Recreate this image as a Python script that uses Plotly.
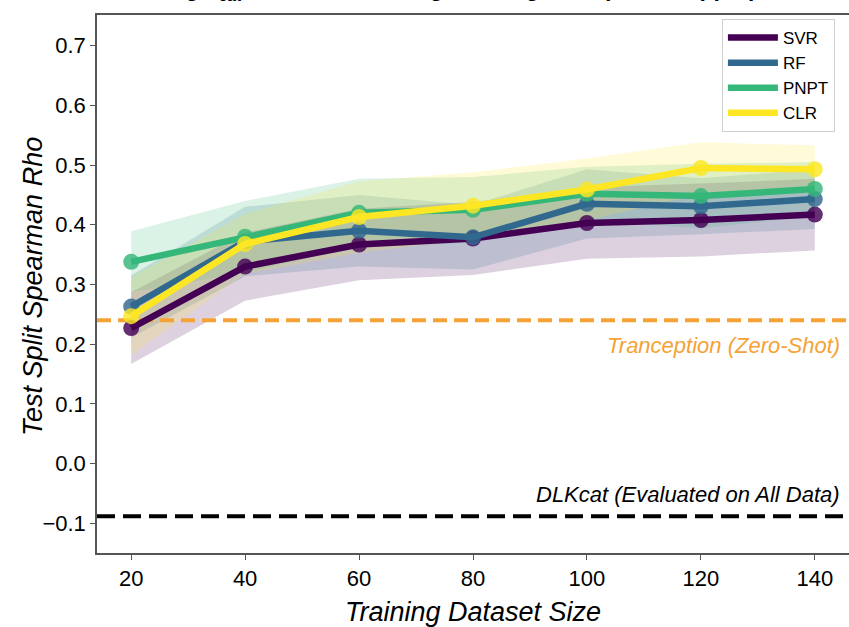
import plotly.graph_objects as go

sizes = [20, 40, 60, 80, 100, 120, 140]
models = ["SVR", "RF", "PNPT", "CLR"]
colors = ["#440154", "#31688e", "#35b779", "#fde725"]
fills = ["rgba(68,1,84,0.18)", "rgba(49,104,142,0.18)", "rgba(53,183,121,0.18)", "rgba(253,231,37,0.18)"]

svr_mean = [0.227, 0.330, 0.367, 0.377, 0.403, 0.408, 0.417]
rf_mean = [0.263, 0.372, 0.390, 0.379, 0.435, 0.431, 0.443]
pnpt_mean = [0.338, 0.380, 0.420, 0.425, 0.452, 0.448, 0.460]
clr_mean = [0.247, 0.368, 0.413, 0.432, 0.459, 0.495, 0.493]

svr_std = [0.060, 0.057, 0.060, 0.061, 0.060, 0.061, 0.060]
rf_std = [0.052, 0.058, 0.060, 0.054, 0.058, 0.047, 0.050]
pnpt_std = [0.051, 0.060, 0.057, 0.055, 0.045, 0.054, 0.045]
clr_std = [0.065, 0.050, 0.060, 0.056, 0.052, 0.043, 0.040]

means = [svr_mean, rf_mean, pnpt_mean, clr_mean]
stds = [svr_std, rf_std, pnpt_std, clr_std]

tranception = 0.240
dlkcat = -0.088

y_ticks = [-0.1, 0.0, 0.1, 0.2, 0.3, 0.4, 0.5, 0.6, 0.7]

title_text = "<b>Predicting k<sub><i>cat</i></sub> versus Increasing Training Data (Model Upper)</b>"

fig = go.Figure()

# shaded bands
for name, m, s, fc in zip(models, means, stds, fills):
    upper = [a + b for a, b in zip(m, s)]
    lower = [a - b for a, b in zip(m, s)]
    fig.add_trace(go.Scatter(
        x=sizes + sizes[::-1], y=upper + lower[::-1], fill="toself",
        fillcolor=fc, line=dict(width=0), mode="lines",
        hoverinfo="skip", showlegend=False))

# reference lines
fig.add_trace(go.Scatter(x=[14, 146], y=[tranception, tranception], mode="lines",
                         line=dict(color="#f5a236", width=4, dash="14px,7px"),
                         showlegend=False, hoverinfo="skip"))
fig.add_trace(go.Scatter(x=[14, 146], y=[dlkcat, dlkcat], mode="lines",
                         line=dict(color="#000000", width=4, dash="18px,8px"),
                         showlegend=False, hoverinfo="skip"))

# markers then lines
for name, m, c in zip(models, means, colors):
    fig.add_trace(go.Scatter(x=sizes, y=m, mode="markers",
                             marker=dict(color=c, size=16, opacity=0.82),
                             showlegend=False))
    fig.add_trace(go.Scatter(x=sizes, y=m, mode="lines", name=name,
                             line=dict(color=c, width=6.5)))

fig.add_annotation(x=0.9907, xref="paper", y=tranception - 25 / 600, yref="y",
                   text="<i>Tranception (Zero-Shot)</i>", showarrow=False,
                   xanchor="right", yanchor="middle",
                   font=dict(family="Liberation Sans", size=22, color="#f5a236"))
fig.add_annotation(x=0.9907, xref="paper", y=dlkcat + 22 / 600, yref="y",
                   text="<i>DLKcat (Evaluated on All Data)</i>", showarrow=False,
                   xanchor="right", yanchor="middle",
                   font=dict(family="Liberation Sans", size=22, color="#000000"))
fig.add_annotation(x=-12 / 752, xref="paper", y=1 + 9 / 540, yref="paper",
                   text=title_text, showarrow=False, xanchor="left", yanchor="bottom",
                   font=dict(family="Liberation Sans", size=23, color="#000000"))
# y-axis title
fig.add_annotation(x=(33 - 97) / 752, xref="paper", y=(555 - 288) / 540, yref="paper",
                   text="<i>Test Split Spearman Rho</i>", showarrow=False, textangle=-90,
                   xanchor="center", yanchor="middle",
                   font=dict(family="Liberation Sans", size=27, color="#000000"))

fig.update_layout(
    width=849, height=627,
    margin=dict(l=97, r=0, t=15, b=72),
    paper_bgcolor="white", plot_bgcolor="white",
    font=dict(family="Liberation Sans", color="#000000"),
    legend=dict(x=0.831, y=(555 - 19) / 540, xanchor="left", yanchor="top",
                bgcolor="white", bordercolor="#d0d0d0", borderwidth=1,
                font=dict(family="Liberation Sans", size=17, color="#000000"),
                itemwidth=50, tracegroupgap=0),
    xaxis=dict(range=[14, 146], tickvals=sizes, ticktext=[str(v) for v in sizes],
               showgrid=False, zeroline=False, showline=True, mirror=True,
               linecolor="#555555", linewidth=1.5, ticks="outside", ticklen=5,
               tickcolor="#555555", tickwidth=1.3,
               tickfont=dict(family="Liberation Sans", size=22, color="#000000"),
               title=dict(text="<i>Training Dataset Size</i>", standoff=17,
                          font=dict(family="Liberation Sans", size=27, color="#000000"))),
    yaxis=dict(range=[-0.1495, 0.7512], tickvals=y_ticks, tickformat=".1f",
               showgrid=False, zeroline=False, showline=True, mirror=False,
               linecolor="#555555", linewidth=1.5, ticks="outside", ticklen=5,
               tickcolor="#555555", tickwidth=1.3,
               tickfont=dict(family="Liberation Sans", size=22, color="#000000")),
)

fig.write_html("out.html", config={"displayModeBar": False},
               post_script="document.body.style.margin='0px';document.body.style.overflow='hidden';")
